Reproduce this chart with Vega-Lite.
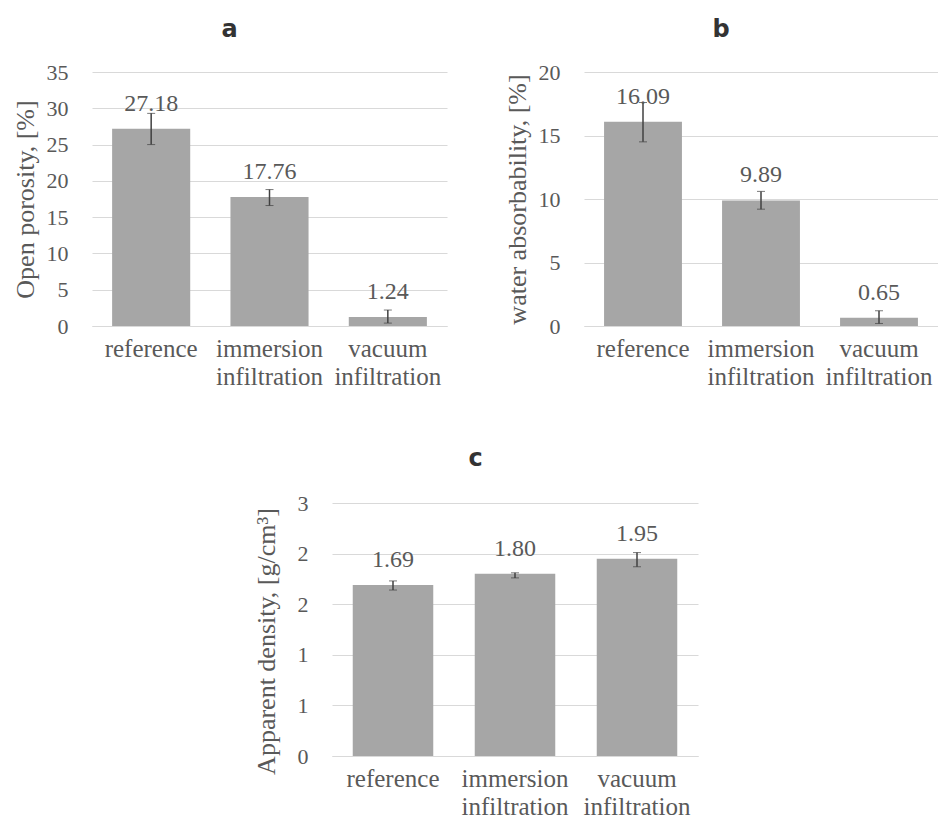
{
  "$schema": "https://vega.github.io/schema/vega-lite/v6.json",
  "background": "white",
  "padding": {"left": 12, "top": 18, "right": 0, "bottom": 0},
  "datasets": {
    "a": [
      {"sample": "reference", "value": 27.18, "lower": 25.0, "upper": 29.3},
      {"sample": "immersion infiltration", "value": 17.76, "lower": 16.6, "upper": 18.8},
      {"sample": "vacuum infiltration", "value": 1.24, "lower": 0.4, "upper": 2.2}
    ],
    "b": [
      {"sample": "reference", "value": 16.09, "lower": 14.5, "upper": 17.6},
      {"sample": "immersion infiltration", "value": 9.89, "lower": 9.2, "upper": 10.6},
      {"sample": "vacuum infiltration", "value": 0.65, "lower": 0.2, "upper": 1.2}
    ],
    "c": [
      {"sample": "reference", "value": 1.69, "lower": 1.64, "upper": 1.73},
      {"sample": "immersion infiltration", "value": 1.80, "lower": 1.76, "upper": 1.81},
      {"sample": "vacuum infiltration", "value": 1.95, "lower": 1.87, "upper": 2.01}
    ]
  },
  "config": {
    "view": {"stroke": null},
    "font": "Liberation Serif",
    "style": {
      "guide-label": {"font": "Liberation Serif"},
      "guide-title": {"font": "Liberation Serif"}
    },
    "axis": {
      "labelFont": "Liberation Serif",
      "titleFont": "Liberation Serif",
      "labelColor": "#595959",
      "titleColor": "#595959",
      "titleFontWeight": "normal",
      "ticks": false
    },
    "axisY": {
      "domain": false,
      "gridColor": "#d9d9d9",
      "gridWidth": 1,
      "labelFontSize": 22,
      "labelPadding": 24,
      "titleFontSize": 26,
      "titlePadding": 8
    },
    "axisX": {
      "domainColor": "#d9d9d9",
      "labelFontSize": 25,
      "labelPadding": 10,
      "labelAngle": 0,
      "labelLineHeight": 28,
      "labelExpr": "split(datum.label, ' ')",
      "title": null,
      "grid": false
    },
    "title": {
      "font": "DejaVu Sans",
      "fontWeight": "bold",
      "fontSize": 24,
      "color": "#333333",
      "anchor": "middle",
      "frame": "bounds",
      "offset": 19
    },
    "bar": {"color": "#a6a6a6"},
    "text": {"font": "Liberation Serif", "fontSize": 24, "color": "#595959", "baseline": "bottom", "dy": -13}
  },
  "vconcat": [
    {
      "hconcat": [
        {
          "title": "a",
          "width": 355,
          "height": 254,
          "data": {"name": "a"},
          "encoding": {
            "x": {"field": "sample", "type": "nominal", "sort": null, "scale": {"paddingInner": 0.34, "paddingOuter": 0.17}}
          },
          "layer": [
            {"mark": "bar", "encoding": {"y": {"field": "value", "type": "quantitative", "scale": {"domain": [0, 35], "nice": false}, "axis": {"values": [0, 5, 10, 15, 20, 25, 30, 35]}, "title": "Open porosity, [%]"}}},
            {"mark": {"type": "errorbar", "ticks": {"size": 8, "color": "#404040", "strokeWidth": 1.5}, "rule": {"color": "#404040", "strokeWidth": 1.5}}, "encoding": {"y": {"field": "lower", "type": "quantitative", "axis": {"values": [0, 5, 10, 15, 20, 25, 30, 35]}, "title": "Open porosity, [%]"}, "y2": {"field": "upper"}}},
            {"mark": {"type": "text", "font": "Liberation Serif"}, "encoding": {"y": {"field": "value", "type": "quantitative", "axis": {"values": [0, 5, 10, 15, 20, 25, 30, 35]}, "title": "Open porosity, [%]"}, "text": {"field": "value", "type": "quantitative", "format": ".2f"}}}
          ]
        },
        {
          "title": "b",
          "width": 354,
          "height": 254,
          "data": {"name": "b"},
          "encoding": {
            "x": {"field": "sample", "type": "nominal", "sort": null, "scale": {"paddingInner": 0.34, "paddingOuter": 0.17}}
          },
          "layer": [
            {"mark": "bar", "encoding": {"y": {"field": "value", "type": "quantitative", "scale": {"domain": [0, 20], "nice": false}, "axis": {"values": [0, 5, 10, 15, 20]}, "title": "water absorbability, [%]"}}},
            {"mark": {"type": "errorbar", "ticks": {"size": 8, "color": "#404040", "strokeWidth": 1.5}, "rule": {"color": "#404040", "strokeWidth": 1.5}}, "encoding": {"y": {"field": "lower", "type": "quantitative", "axis": {"values": [0, 5, 10, 15, 20]}, "title": "water absorbability, [%]"}, "y2": {"field": "upper"}}},
            {"mark": {"type": "text", "font": "Liberation Serif"}, "encoding": {"y": {"field": "value", "type": "quantitative", "axis": {"values": [0, 5, 10, 15, 20]}, "title": "water absorbability, [%]"}, "text": {"field": "value", "type": "quantitative", "format": ".2f"}}}
          ]
        }
      ],
      "spacing": 56
    },
    {
      "title": {"text": "c", "offset": 21},
      "width": 366,
      "height": 253,
      "data": {"name": "c"},
      "encoding": {
        "x": {"field": "sample", "type": "nominal", "sort": null, "scale": {"paddingInner": 0.34, "paddingOuter": 0.17}}
      },
      "layer": [
        {"mark": "bar", "encoding": {"y": {"field": "value", "type": "quantitative", "scale": {"domain": [0, 2.5], "nice": false}, "axis": {"values": [0, 0.5, 1, 1.5, 2, 2.5], "format": ".0f", "titlePadding": 18, "titleY": 138}, "title": "Apparent density, [g/cm³]"}}},
        {"mark": {"type": "errorbar", "ticks": {"size": 8, "color": "#404040", "strokeWidth": 1.5}, "rule": {"color": "#404040", "strokeWidth": 1.5}}, "encoding": {"y": {"field": "lower", "type": "quantitative", "axis": {"values": [0, 0.5, 1, 1.5, 2, 2.5], "format": ".0f", "titlePadding": 18, "titleY": 138}, "title": "Apparent density, [g/cm³]"}, "y2": {"field": "upper"}}},
        {"mark": {"type": "text", "font": "Liberation Serif"}, "encoding": {"y": {"field": "value", "type": "quantitative", "axis": {"values": [0, 0.5, 1, 1.5, 2, 2.5], "format": ".0f", "titlePadding": 18, "titleY": 138}, "title": "Apparent density, [g/cm³]"}, "text": {"field": "value", "type": "quantitative", "format": ".2f"}}}
      ]
    }
  ],
  "spacing": 58,
  "center": true
}
